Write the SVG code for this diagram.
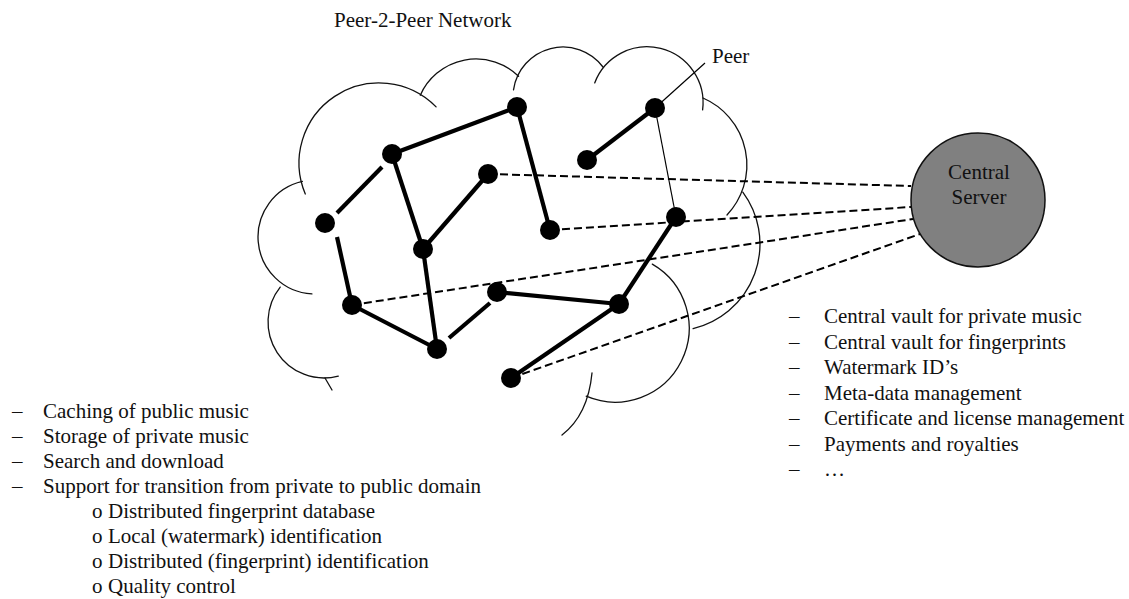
<svg xmlns="http://www.w3.org/2000/svg" width="1129" height="599" viewBox="0 0 1129 599">
<style>
.cloud{fill:none;stroke:#111;stroke-width:1.3;stroke-linecap:round}
.thick{stroke:#000;stroke-width:4.2;fill:none}
.thin{stroke:#000;stroke-width:1.2;fill:none}
.dash{stroke:#000;stroke-width:2;stroke-dasharray:8 4;fill:none}
.peer{fill:#000}
text{font-family:"Liberation Serif","Times New Roman",serif;font-size:21px;fill:#111}
</style>
<rect width="1129" height="599" fill="#fff"/>
<g id="cloud">
<path class="cloud" d="M305.3,194 A80,80 0 0 1 436.1,106.9"/>
<path class="cloud" d="M420.3,95.2 A61,61 0 0 1 518.6,76.3"/>
<path class="cloud" d="M513.5,89.8 A50,50 0 0 1 603,67"/>
<path class="cloud" d="M594.7,82.9 A56,56 0 0 1 702.6,109.9"/>
<path class="cloud" d="M703,98 A73,73 0 0 1 727,215"/>
<path class="cloud" d="M742.8,192.1 A87,87 0 0 1 693.1,328.6"/>
<path class="cloud" d="M652.3,264.1 A74,74 0 0 1 586.2,396.2"/>
<path class="cloud" d="M592,373 Q588,415 562,435"/>
<path class="cloud" d="M302.4,181.4 A57,57 0 0 0 311.9,293.9"/>
<path class="cloud" d="M280.2,287.1 A56,56 0 0 0 338.3,376.1"/>
<path class="cloud" d="M325,378 L332,390"/>
</g>
<g id="connectors">
<line class="dash" x1="488" y1="174" x2="911" y2="186"/>
<line class="dash" x1="550" y1="230" x2="911" y2="207"/>
<line class="dash" x1="352" y1="305" x2="913" y2="219"/>
<line class="dash" x1="511" y1="378" x2="920" y2="234"/>
<line class="thick" x1="392" y1="154" x2="517" y2="107"/>
<line class="thick" x1="517" y1="107" x2="550" y2="230"/>
<line class="thick" x1="337" y1="213" x2="382" y2="167"/>
<line class="thick" x1="392" y1="154" x2="423" y2="249"/>
<line class="thick" x1="423" y1="249" x2="488" y2="174"/>
<line class="thick" x1="423" y1="249" x2="437" y2="349"/>
<line class="thick" x1="337" y1="237" x2="352" y2="305"/>
<line class="thick" x1="352" y1="305" x2="437" y2="349"/>
<line class="thick" x1="449" y1="338" x2="490" y2="303"/>
<line class="thick" x1="497" y1="292" x2="619" y2="304"/>
<line class="thick" x1="619" y1="304" x2="676" y2="217"/>
<line class="thick" x1="619" y1="304" x2="511" y2="378"/>
<line class="thick" x1="587" y1="160" x2="655" y2="108"/>
<line class="thin" x1="655" y1="108" x2="676" y2="217"/>
<line class="thin" x1="655" y1="108" x2="705" y2="63"/>
</g>
<g id="peer-1"><circle class="peer" cx="517" cy="107" r="10"/></g>
<g id="peer-2"><circle class="peer" cx="392" cy="154" r="10"/></g>
<g id="peer-3"><circle class="peer" cx="488" cy="174" r="10"/></g>
<g id="peer-4"><circle class="peer" cx="655" cy="108" r="10"/></g>
<g id="peer-5"><circle class="peer" cx="587" cy="160" r="10"/></g>
<g id="peer-6"><circle class="peer" cx="325" cy="223" r="10"/></g>
<g id="peer-7"><circle class="peer" cx="423" cy="249" r="10"/></g>
<g id="peer-8"><circle class="peer" cx="550" cy="230" r="10"/></g>
<g id="peer-9"><circle class="peer" cx="676" cy="217" r="10"/></g>
<g id="peer-10"><circle class="peer" cx="352" cy="305" r="10"/></g>
<g id="peer-11"><circle class="peer" cx="497" cy="292" r="10"/></g>
<g id="peer-12"><circle class="peer" cx="619" cy="304" r="10"/></g>
<g id="peer-13"><circle class="peer" cx="437" cy="349" r="10"/></g>
<g id="peer-14"><circle class="peer" cx="511" cy="378" r="10"/></g>
<g id="central-server">
<circle cx="978" cy="200" r="67" fill="#808080" stroke="#111" stroke-width="1.5"/>
<text x="979" y="179" text-anchor="middle">Central</text>
<text x="979" y="204" text-anchor="middle">Server</text>
</g>
<g id="labels">
<text x="334" y="27">Peer-2-Peer Network</text>
<text x="712" y="63">Peer</text>
</g>
<g id="server-list">
<text x="789" y="323">–</text><text x="824" y="323">Central vault for private music</text>
<text x="789" y="348.5">–</text><text x="824" y="348.5">Central vault for fingerprints</text>
<text x="789" y="374">–</text><text x="824" y="374">Watermark ID’s</text>
<text x="789" y="399.5">–</text><text x="824" y="399.5">Meta-data management</text>
<text x="789" y="425">–</text><text x="824" y="425">Certificate and license management</text>
<text x="789" y="450.5">–</text><text x="824" y="450.5">Payments and royalties</text>
<text x="789" y="476">–</text><text x="824" y="476">…</text>
</g>
<g id="peer-list">
<text x="12" y="418">–</text><text x="43" y="418">Caching of public music</text>
<text x="12" y="443">–</text><text x="43" y="443">Storage of private music</text>
<text x="12" y="468">–</text><text x="43" y="468">Search and download</text>
<text x="12" y="493">–</text><text x="43" y="493">Support for transition from private to public domain</text>
<text x="92" y="518">o</text><text x="108" y="518">Distributed fingerprint database</text>
<text x="92" y="543">o</text><text x="108" y="543">Local (watermark) identification</text>
<text x="92" y="568">o</text><text x="108" y="568">Distributed (fingerprint) identification</text>
<text x="92" y="593">o</text><text x="108" y="593">Quality control</text>
</g>
</svg>
